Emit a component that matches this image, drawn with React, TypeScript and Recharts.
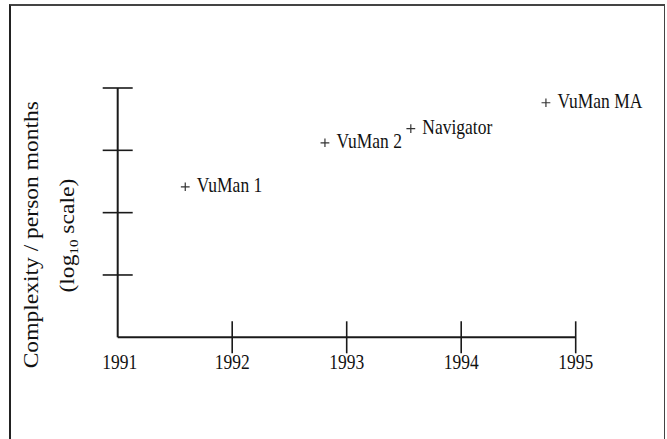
import React from 'react';
import { ScatterChart, Scatter, XAxis, YAxis } from 'recharts';

const years = [1991, 1992, 1993, 1994, 1995];
const complexityTicks = [10, 100, 1000, 10000];
const systems = ['VuMan 1', 'VuMan 2', 'Navigator', 'VuMan MA'];
const releaseYear = [1991.59, 1992.81, 1993.56, 1994.74];
const personMonths = [260, 1320, 2230, 5800];

const data = systems.map((name, i) => ({ name, year: releaseYear[i], pm: personMonths[i] }));

const FONT = '"Liberation Serif", "Times New Roman", serif';
const INK = '#1a1a1a';

const XTick = (props: any) => {
  const { x, y, payload, index } = props;
  return (
    <g>
      {index !== 0 && <line x1={x} x2={x} y1={y - 16} y2={y + 16} stroke={INK} strokeWidth={1.6} />}
      <text
        transform={`translate(${x + (index === 0 ? 2 : 0)},${y + 32}) scale(1,1.2)`}
        textAnchor="middle"
        fontSize={17.5}
        fontFamily={FONT}
        fill="#111"
      >
        {payload.value}
      </text>
    </g>
  );
};

const YTick = (props: any) => {
  const { x, y } = props;
  return <line x1={x - 15} x2={x + 15} y1={y} y2={y} stroke={INK} strokeWidth={1.6} />;
};

const YTitle = (props: any) => {
  const vb = props.viewBox || { x: 108, y: 88, width: 10, height: 249 };
  const cy = vb.y + vb.height / 2 + 22;
  const base = vb.x + vb.width;
  return (
    <g fontFamily={FONT} fill="#111">
      <text transform={`translate(${base - 79.5},${cy}) rotate(-90) scale(1.16,1)`} textAnchor="middle" fontSize={20.3}>
        Complexity / person months
      </text>
      <text transform={`translate(${base - 43.5},${cy + 1}) rotate(-90) scale(1.16,1)`} textAnchor="middle" fontSize={20.3}>
        (log<tspan fontSize={13} dy={4}>10</tspan>
        <tspan dy={-4}> scale)</tspan>
      </text>
    </g>
  );
};

const Point = (props: any) => {
  const { cx, cy, payload } = props;
  if (cx == null || cy == null) return null;
  return (
    <g>
      <path d={`M${cx - 4.4},${cy}H${cx + 4.4}M${cx},${cy - 4.3}V${cy + 4.3}`} stroke="#333" strokeWidth={1.2} fill="none" />
      <text
        transform={`translate(${cx + 11.5},${cy + 5}) scale(1,1.2)`}
        fontSize={17.5}
        fontFamily={FONT}
        fill="#111"
      >
        {payload.name}
      </text>
    </g>
  );
};

export default function App() {
  return (
    <div style={{ position: 'absolute', left: 0, top: 0, width: 667, height: 439, overflow: 'hidden', background: '#fff' }}>
      <div
        style={{
          position: 'absolute',
          left: 9,
          top: 4,
          width: 653,
          height: 500,
          borderTop: '2px solid #444',
          borderLeft: '2px solid #222',
          borderRight: '1.5px solid #444',
        }}
      />
      <div style={{ position: 'absolute', left: 0, top: 0 }}>
        <ScatterChart width={667} height={439} margin={{ top: 88, right: 91.3, bottom: 91.7, left: 107.7 }}>
          <XAxis
            type="number"
            dataKey="year"
            domain={[1991, 1995]}
            ticks={years}
            height={10}
            tickSize={0}
            tickMargin={0}
            tickLine={false}
            axisLine={{ stroke: INK, strokeWidth: 2 }}
            tick={<XTick />}
            interval={0}
          />
          <YAxis
            type="number"
            dataKey="pm"
            scale="log"
            domain={[1, 10000]}
            ticks={complexityTicks}
            width={10}
            tickSize={0}
            tickMargin={0}
            tickLine={false}
            axisLine={{ stroke: INK, strokeWidth: 2 }}
            tick={<YTick />}
            interval={0}
            allowDataOverflow
            label={{ content: <YTitle /> }}
          />
          <Scatter data={data} shape={<Point />} isAnimationActive={false} />
        </ScatterChart>
      </div>
    </div>
  );
}
